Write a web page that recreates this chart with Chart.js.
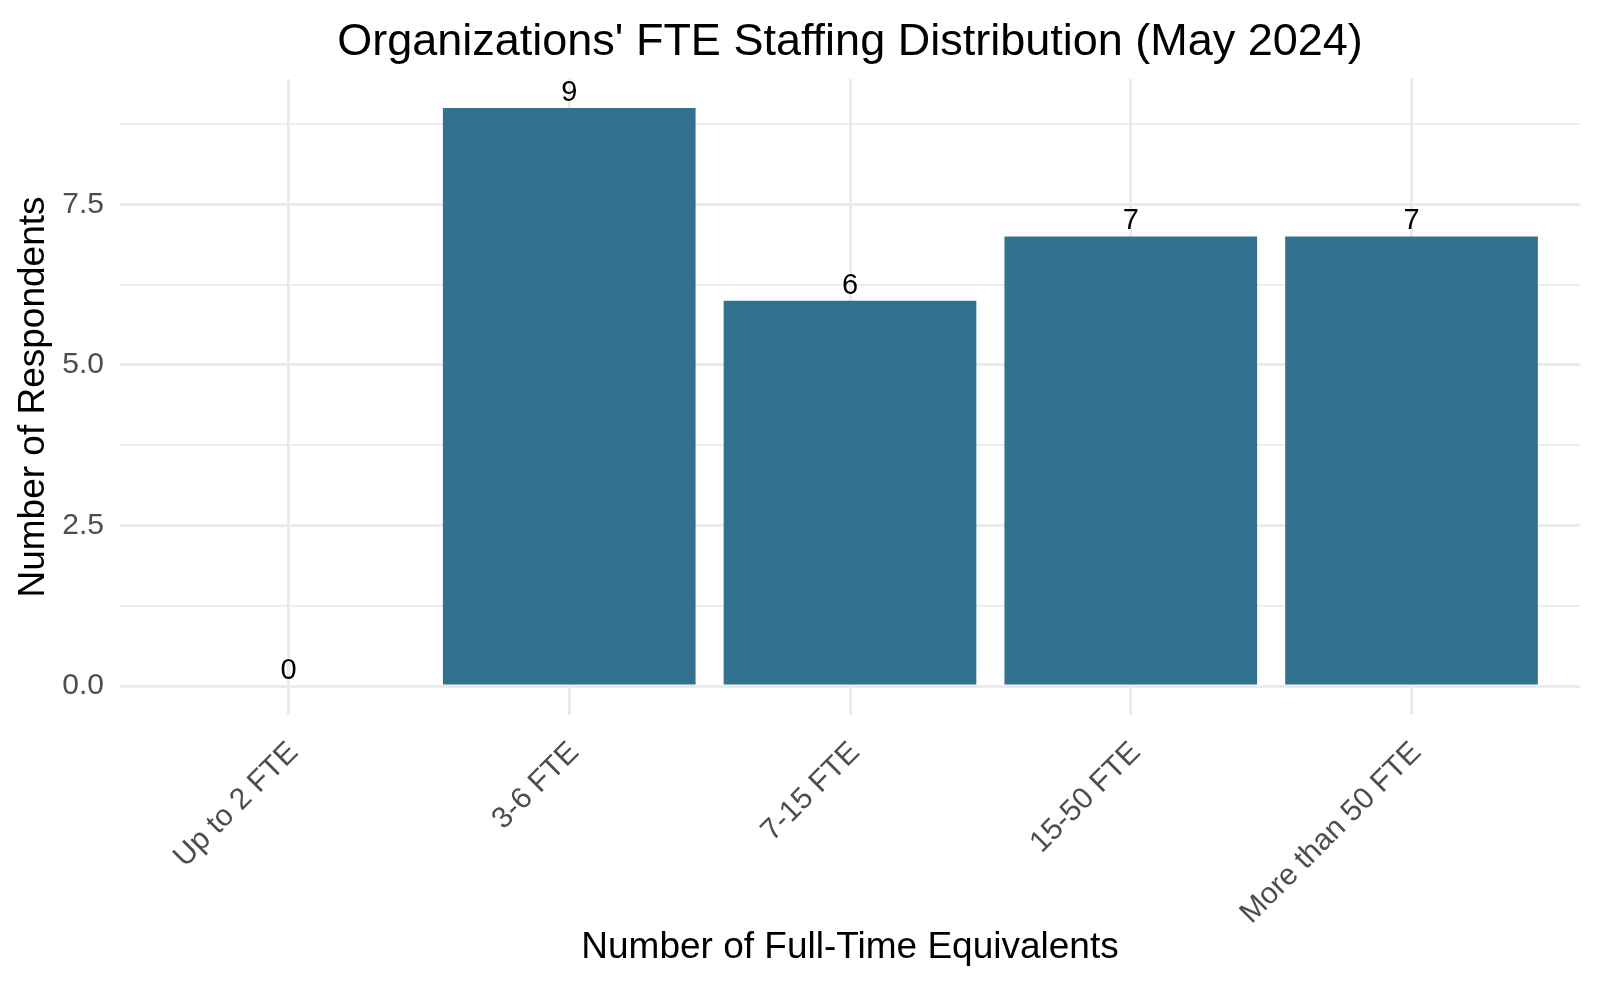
<!DOCTYPE html>
<html>
<head>
<meta charset="utf-8">
<title>Organizations' FTE Staffing Distribution (May 2024)</title>
<script src="https://cdn.jsdelivr.net/npm/chart.js@4.4.1/dist/chart.umd.min.js"></script>
<style>
  html, body { margin: 0; padding: 0; background: #fff; }
  #wrap { width: 1600px; height: 984px; }
</style>
</head>
<body>
<div id="wrap"><canvas id="fteChart"></canvas></div>
<script>
const categories = ["Up to 2 FTE", "3-6 FTE", "7-15 FTE", "15-50 FTE", "More than 50 FTE"];
const respondents = [0, 9, 6, 7, 7];
const yMajorTicks = [0, 2.5, 5, 7.5];
const yMinorTicks = [1.25, 3.75, 6.25, 8.75];

const FONT = "'Liberation Sans', Arial, sans-serif";
Chart.defaults.font.family = FONT;

// count labels drawn just above each bar
const barValueLabels = {
  id: "barValueLabels",
  afterDatasetsDraw(chart) {
    const ctx = chart.ctx;
    const meta = chart.getDatasetMeta(0);
    ctx.save();
    ctx.font = "29px " + FONT;
    ctx.fillStyle = "#000";
    ctx.textAlign = "center";
    ctx.textBaseline = "alphabetic";
    meta.data.forEach((bar, i) => {
      ctx.fillText(String(respondents[i]), bar.x, bar.y - 7);
    });
    ctx.restore();
  },
};

const ctx = document.getElementById("fteChart").getContext("2d");

const fteChart = new Chart(ctx, {
  type: "bar",
  data: {
    datasets: [
      {
        data: respondents.map((v, i) => ({ x: i, y: v })),
        backgroundColor: "#33728F",
        borderWidth: 0,
        barPercentage: 0.9,
        categoryPercentage: 1.0,
      },
    ],
  },
  options: {
    responsive: true,
    maintainAspectRatio: false,
    animation: false,
    devicePixelRatio: 1,
    layout: { padding: { left: 0, right: 20, top: 0, bottom: 0 } },
    plugins: {
      legend: { display: false },
      tooltip: { enabled: false },
      title: {
        display: true,
        fullSize: false, // centre over the plot panel, like ggplot
        text: "Organizations' FTE Staffing Distribution (May 2024)",
        color: "#000",
        font: { size: 45, weight: "normal" },
        padding: { top: 16, bottom: 9 },
      },
    },
    scales: {
      x: {
        type: "linear",
        min: -0.6,
        max: 4.6,
        bounds: "data",
        offset: false,
        afterBuildTicks: (scale) => {
          scale.ticks = categories.map((c, i) => ({ value: i }));
        },
        afterFit: (scale) => {
          scale.height = 269;
        },
        ticks: {
          autoSkip: false,
          minRotation: 45,
          maxRotation: 45,
          padding: 20,
          labelOffset: 5,
          color: "#4D4D4D",
          font: { size: 30 },
          callback: (value) => categories[value],
        },
        grid: { color: "#EBEBEB", lineWidth: 3, drawTicks: false, offset: false },
        border: { display: false },
        title: {
          display: true,
          text: "Number of Full-Time Equivalents",
          color: "#000",
          font: { size: 37 },
          padding: { top: 0, bottom: 14 },
        },
      },
      y: {
        min: -0.45,
        max: 9.45,
        bounds: "data",
        afterBuildTicks: (scale) => {
          scale.ticks = yMajorTicks
            .concat(yMinorTicks)
            .sort((a, b) => a - b)
            .map((v) => ({ value: v }));
        },
        afterFit: (scale) => {
          scale.width = 120;
        },
        ticks: {
          padding: 16,
          color: "#4D4D4D",
          font: { size: 30 },
          callback: (value) => (yMajorTicks.includes(value) ? value.toFixed(1) : ""),
        },
        grid: {
          color: "#EBEBEB",
          lineWidth: (c) => (c.tick && yMajorTicks.includes(c.tick.value) ? 3 : 1.8),
          drawTicks: false,
        },
        border: { display: false },
        title: {
          display: true,
          text: "Number of Respondents",
          color: "#000",
          font: { size: 37 },
          padding: { top: 12, bottom: 0 },
        },
      },
    },
  },
  plugins: [barValueLabels],
});
</script>
</body>
</html>
